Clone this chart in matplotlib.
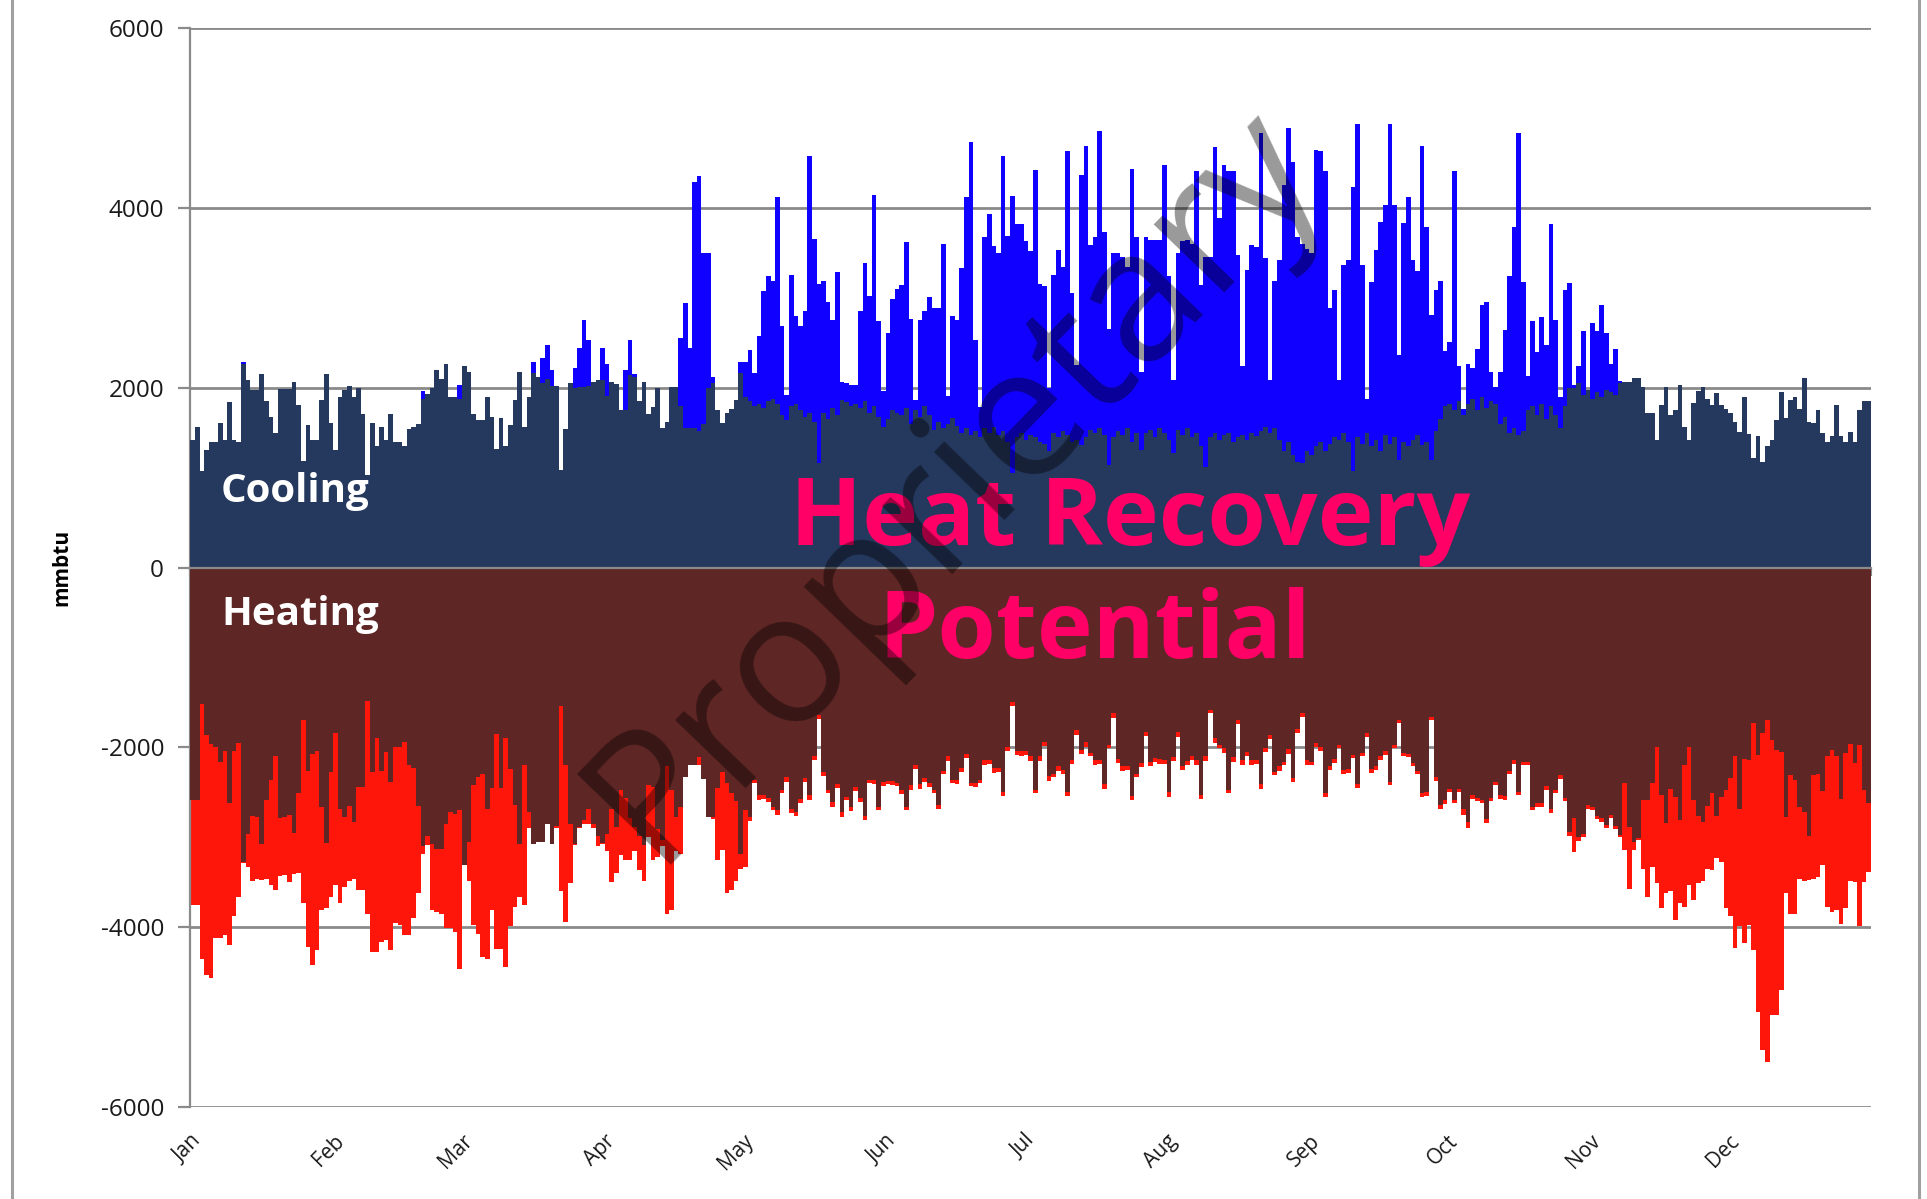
import numpy as np
import matplotlib
matplotlib.use("Agg")
import matplotlib.pyplot as plt
from matplotlib.lines import Line2D

plt.rcParams['font.family'] = ['Open Sans', 'DejaVu Sans']
plt.rcParams['axes.unicode_minus'] = False

months = ['Jan', 'Feb', 'Mar', 'Apr', 'May', 'Jun', 'Jul', 'Aug', 'Sep', 'Oct', 'Nov', 'Dec']
month_start = [0, 31, 59, 90, 120, 151, 181, 212, 243, 273, 304, 334]

# daily values, thousands of mmbtu
cool_peak = [
    1.42, 1.57, 1.07, 1.31, 1.40, 1.40, 1.61, 1.42, 1.84, 1.42,
    1.40, 2.29, 2.09, 1.98, 1.98, 2.15, 1.85, 1.68, 1.50, 1.99,
    1.99, 1.99, 2.07, 1.81, 1.19, 1.59, 1.42, 1.42, 1.87, 2.15,
    1.61, 1.31, 1.90, 1.98, 2.02, 1.90, 2.00, 1.71, 1.03, 1.61,
    1.35, 1.56, 1.42, 1.71, 1.40, 1.40, 1.35, 1.54, 1.57, 1.60,
    1.96, 1.93, 2.00, 2.20, 2.10, 2.27, 1.90, 1.90, 2.03, 2.24,
    2.18, 1.71, 1.64, 1.64, 1.90, 1.68, 1.32, 1.66, 1.35, 1.59,
    1.86, 2.18, 1.57, 1.90, 2.29, 2.12, 2.33, 2.48, 2.20, 2.02,
    1.09, 1.54, 2.05, 2.22, 2.44, 2.75, 2.53, 2.07, 2.09, 2.44,
    2.27, 2.07, 2.04, 1.75, 2.20, 2.53, 2.15, 1.85, 2.07, 1.71,
    1.79, 2.00, 1.55, 1.62, 2.01, 2.01, 2.56, 2.94, 2.44, 4.29,
    4.36, 3.50, 3.50, 2.12, 1.75, 1.61, 1.72, 1.77, 1.86, 2.29,
    2.29, 2.42, 2.16, 2.58, 3.08, 3.24, 3.19, 4.12, 2.69, 1.92,
    3.26, 2.80, 2.69, 2.85, 4.58, 3.66, 3.16, 3.19, 2.96, 2.75,
    3.29, 2.07, 2.05, 2.03, 2.03, 2.85, 3.39, 3.02, 4.15, 2.74,
    1.97, 2.61, 2.99, 3.10, 3.14, 3.62, 2.77, 1.87, 2.76, 2.85,
    3.01, 2.89, 2.89, 3.60, 1.91, 2.80, 2.76, 3.33, 4.12, 4.73,
    2.53, 1.79, 3.68, 3.93, 3.58, 3.50, 4.58, 3.69, 4.13, 3.82,
    3.82, 3.63, 3.52, 4.42, 3.16, 3.13, 2.00, 3.26, 3.53, 3.35,
    4.64, 3.05, 2.25, 4.37, 4.69, 3.59, 3.68, 4.86, 3.73, 2.66,
    3.50, 3.50, 3.46, 3.35, 4.44, 3.68, 2.18, 3.68, 3.65, 3.65,
    3.65, 4.48, 3.24, 2.09, 3.50, 3.63, 3.65, 3.60, 4.41, 3.14,
    3.46, 3.46, 4.68, 3.89, 4.48, 4.41, 4.41, 3.48, 2.24, 3.31,
    3.59, 3.57, 4.84, 3.44, 2.09, 3.19, 3.42, 4.26, 4.89, 4.51,
    3.68, 3.60, 3.55, 3.50, 4.65, 4.63, 4.41, 2.89, 3.09, 2.09,
    3.37, 3.42, 4.23, 4.94, 3.37, 1.88, 3.18, 3.53, 3.85, 4.03,
    4.94, 4.03, 2.37, 3.83, 4.12, 3.42, 3.30, 4.69, 3.79, 2.81,
    3.09, 3.19, 2.41, 2.51, 4.41, 2.24, 1.77, 2.27, 2.22, 2.43,
    2.92, 2.96, 2.18, 2.01, 2.18, 2.64, 3.24, 3.79, 4.84, 3.18,
    2.13, 2.74, 2.40, 2.79, 2.48, 3.82, 2.76, 1.90, 3.09, 3.17,
    2.03, 2.24, 2.63, 1.98, 2.72, 2.63, 2.92, 2.61, 2.27, 2.43,
    2.08, 2.07, 2.07, 2.11, 2.11, 2.01, 1.72, 1.72, 1.42, 1.81,
    2.01, 1.70, 1.75, 2.03, 1.57, 1.42, 1.83, 1.96, 2.01, 1.88,
    1.81, 1.94, 1.81, 1.77, 1.72, 1.62, 1.51, 1.90, 1.49, 1.22,
    1.46, 1.18, 1.35, 1.42, 1.64, 1.95, 1.66, 1.87, 1.90, 1.77,
    2.11, 1.62, 1.61, 1.75, 1.50, 1.40, 1.46, 1.81, 1.46, 1.40,
    1.51, 1.40, 1.75, 1.85, 1.85,
]

cool_base = [
    1.42, 1.57, 1.07, 1.31, 1.40, 1.40, 1.61, 1.42, 1.84, 1.42,
    1.40, 2.27, 2.09, 1.98, 1.98, 2.15, 1.85, 1.68, 1.50, 1.99,
    1.99, 1.99, 2.07, 1.81, 1.19, 1.59, 1.42, 1.42, 1.87, 2.15,
    1.61, 1.31, 1.90, 1.98, 2.02, 1.90, 2.00, 1.71, 1.03, 1.61,
    1.35, 1.56, 1.42, 1.71, 1.40, 1.40, 1.35, 1.54, 1.57, 1.60,
    1.88, 1.93, 2.00, 2.20, 2.10, 2.27, 1.90, 1.90, 1.88, 2.24,
    2.18, 1.71, 1.64, 1.64, 1.90, 1.68, 1.32, 1.66, 1.35, 1.59,
    1.86, 2.18, 1.57, 1.90, 2.16, 2.12, 2.05, 2.10, 2.02, 2.02,
    1.09, 1.54, 2.05, 2.00, 2.01, 2.01, 2.02, 2.07, 2.09, 2.09,
    1.91, 2.07, 2.04, 1.75, 1.75, 2.14, 2.12, 1.85, 2.07, 1.71,
    1.79, 2.00, 1.55, 1.62, 2.01, 2.01, 1.80, 1.55, 1.55, 1.55,
    1.52, 1.60, 2.00, 2.05, 1.75, 1.61, 1.72, 1.77, 1.86, 2.16,
    1.90, 1.85, 1.80, 1.82, 1.78, 1.85, 1.88, 1.82, 1.70, 1.64,
    1.80, 1.82, 1.75, 1.68, 1.72, 1.62, 1.16, 1.72, 1.65, 1.78,
    1.70, 1.86, 1.84, 1.80, 1.82, 1.78, 1.85, 1.72, 1.80, 1.68,
    1.57, 1.65, 1.75, 1.72, 1.70, 1.78, 1.60, 1.75, 1.68, 1.80,
    1.70, 1.53, 1.62, 1.55, 1.60, 1.66, 1.58, 1.50, 1.55, 1.48,
    1.52, 1.45, 1.55, 1.50, 1.57, 1.48, 1.52, 1.40, 1.05, 1.45,
    1.50, 1.42, 1.48, 1.45, 1.40, 1.38, 1.30, 1.50, 1.45, 1.52,
    1.48, 1.40, 1.42, 1.36, 1.45, 1.53, 1.50, 1.55, 1.48, 1.14,
    1.45, 1.52, 1.48, 1.55, 1.40, 1.50, 1.31, 1.50, 1.53, 1.45,
    1.55, 1.50, 1.42, 1.27, 1.53, 1.48, 1.55, 1.45, 1.50, 1.35,
    1.12, 1.45, 1.50, 1.42, 1.48, 1.50, 1.40, 1.45, 1.48, 1.42,
    1.50, 1.46, 1.52, 1.57, 1.50, 1.55, 1.42, 1.30, 1.40, 1.25,
    1.18, 1.16, 1.30, 1.25, 1.35, 1.40, 1.30, 1.38, 1.45, 1.42,
    1.50, 1.40, 1.08, 1.45, 1.38, 1.50, 1.35, 1.42, 1.30, 1.48,
    1.38, 1.45, 1.20, 1.40, 1.35, 1.42, 1.48, 1.36, 1.40, 1.20,
    1.52, 1.65, 1.80, 1.82, 1.75, 1.85, 1.70, 1.82, 1.88, 1.75,
    1.90, 1.78, 1.85, 1.82, 1.60, 1.68, 1.50, 1.55, 1.48, 1.52,
    1.75, 1.80, 1.70, 1.82, 1.65, 1.80, 1.70, 1.55, 1.80, 2.00,
    2.00, 2.05, 1.92, 1.98, 1.88, 1.95, 1.90, 1.98, 1.95, 1.92,
    2.05, 2.07, 2.07, 2.11, 2.11, 2.01, 1.72, 1.72, 1.42, 1.81,
    2.01, 1.70, 1.75, 2.03, 1.57, 1.42, 1.83, 1.96, 2.01, 1.88,
    1.81, 1.94, 1.81, 1.77, 1.72, 1.62, 1.51, 1.90, 1.49, 1.22,
    1.46, 1.18, 1.35, 1.42, 1.64, 1.95, 1.66, 1.87, 1.90, 1.77,
    2.11, 1.62, 1.61, 1.75, 1.50, 1.40, 1.46, 1.81, 1.46, 1.40,
    1.51, 1.40, 1.75, 1.85, 1.85,
]

heat_base = [
    -2.59, -2.59, -1.52, -1.86, -1.96, -1.99, -2.16, -2.04, -2.62, -2.04,
    -1.95, -3.27, -2.96, -2.76, -2.77, -3.07, -2.58, -2.36, -2.10, -2.79,
    -2.77, -2.75, -2.95, -2.51, -1.70, -2.26, -2.07, -2.04, -2.66, -3.06,
    -2.27, -1.84, -2.69, -2.77, -2.65, -2.83, -2.44, -2.44, -1.48, -2.27,
    -1.90, -2.26, -2.05, -2.38, -1.99, -1.99, -1.94, -2.19, -2.23, -2.65,
    -3.10, -2.99, -3.07, -3.13, -3.13, -2.85, -2.72, -2.74, -2.70, -3.31,
    -3.05, -2.42, -2.33, -2.30, -2.69, -2.45, -1.85, -2.45, -1.90, -2.24,
    -2.64, -3.07, -2.20, -2.72, -3.07, -3.05, -3.05, -2.85, -3.07, -2.87,
    -1.54, -2.20, -2.85, -3.07, -2.88, -2.81, -2.68, -2.85, -2.98, -3.06,
    -2.96, -2.69, -2.88, -2.47, -2.56, -2.79, -2.88, -2.99, -3.08, -2.42,
    -2.44, -2.91, -3.03, -2.21, -2.47, -2.77, -2.66, -2.33, -2.19, -2.19,
    -2.11, -2.35, -2.77, -2.77, -2.45, -2.27, -2.40, -2.51, -2.60, -3.18,
    -2.70, -2.77, -2.36, -2.53, -2.53, -2.56, -2.66, -2.70, -2.47, -2.33,
    -2.68, -2.72, -2.57, -2.34, -2.53, -2.10, -1.64, -2.27, -2.47, -2.61,
    -2.41, -2.72, -2.55, -2.66, -2.44, -2.56, -2.76, -2.36, -2.36, -2.66,
    -2.38, -2.37, -2.37, -2.39, -2.47, -2.66, -2.42, -2.20, -2.41, -2.34,
    -2.39, -2.47, -2.64, -2.26, -2.10, -2.36, -2.36, -2.23, -2.07, -2.39,
    -2.39, -2.36, -2.14, -2.14, -2.23, -2.23, -2.49, -2.00, -1.49, -2.04,
    -2.04, -2.04, -2.10, -2.47, -2.10, -1.94, -2.32, -2.29, -2.21, -2.25,
    -2.49, -2.14, -1.81, -2.03, -1.94, -2.06, -2.14, -2.14, -2.41, -1.97,
    -1.62, -2.13, -2.21, -2.21, -2.54, -2.29, -2.17, -1.83, -2.16, -2.12,
    -2.13, -2.14, -2.50, -2.11, -1.83, -2.21, -2.15, -2.10, -2.14, -2.53,
    -2.10, -1.58, -1.90, -1.97, -2.01, -2.47, -2.11, -1.70, -2.14, -2.05,
    -2.14, -2.14, -2.41, -2.01, -1.86, -2.27, -2.21, -2.16, -2.02, -2.34,
    -1.79, -1.62, -2.14, -2.16, -1.95, -2.00, -2.51, -2.21, -2.13, -1.97,
    -2.25, -2.24, -2.08, -2.41, -2.06, -1.84, -2.24, -2.21, -2.10, -2.04,
    -2.38, -1.97, -1.69, -2.06, -2.07, -2.17, -2.26, -2.51, -2.50, -1.66,
    -2.33, -2.64, -2.59, -2.46, -2.58, -2.46, -2.68, -2.83, -2.53, -2.56,
    -2.58, -2.80, -2.56, -2.38, -2.53, -2.54, -2.26, -2.14, -2.49, -2.16,
    -2.16, -2.66, -2.62, -2.62, -2.43, -2.69, -2.47, -2.31, -2.56, -2.94,
    -2.79, -3.00, -2.96, -2.64, -2.66, -2.76, -2.79, -2.86, -2.75, -2.87,
    -2.97, -2.39, -2.88, -3.05, -3.01, -2.59, -2.59, -2.40, -1.99, -2.53,
    -2.84, -2.46, -2.55, -2.81, -2.20, -1.99, -2.58, -2.76, -2.83, -2.65,
    -2.51, -2.76, -2.55, -2.47, -2.34, -2.10, -2.68, -2.13, -2.14, -1.73,
    -2.08, -1.84, -1.70, -1.92, -2.03, -2.05, -2.77, -2.31, -2.36, -2.66,
    -2.72, -2.99, -2.31, -2.29, -2.48, -2.10, -2.03, -2.10, -2.57, -2.06,
    -1.96, -2.17, -1.97, -2.47, -2.62,
]

heat_peak = [
    -3.75, -3.75, -4.35, -4.53, -4.57, -4.12, -4.12, -4.09, -4.20, -3.88,
    -3.66, -3.29, -3.33, -3.49, -3.46, -3.47, -3.46, -3.53, -3.59, -3.43,
    -3.42, -3.50, -3.41, -3.40, -3.73, -4.22, -4.42, -4.25, -3.81, -3.79,
    -3.66, -3.53, -3.73, -3.55, -3.49, -3.46, -3.59, -3.59, -3.85, -4.27,
    -4.27, -4.16, -4.14, -4.25, -3.95, -3.97, -4.09, -4.09, -3.90, -3.62,
    -3.18, -3.09, -3.81, -3.83, -3.85, -4.01, -4.01, -4.05, -4.46, -3.31,
    -3.48, -3.98, -4.07, -4.33, -4.35, -3.81, -4.24, -4.24, -4.44, -3.99,
    -3.77, -3.66, -3.75, -2.90, -3.07, -3.05, -3.05, -2.85, -3.07, -2.90,
    -3.60, -3.94, -3.51, -3.09, -2.90, -2.85, -2.85, -2.90, -3.10, -3.07,
    -3.15, -3.50, -3.40, -3.20, -3.25, -3.25, -3.15, -3.36, -3.49, -3.00,
    -3.25, -3.22, -3.10, -3.85, -3.81, -3.15, -3.18, -2.33, -2.19, -2.19,
    -2.20, -2.35, -2.77, -2.80, -3.25, -3.14, -3.62, -3.59, -3.48, -3.35,
    -3.33, -2.82, -2.40, -2.58, -2.57, -2.61, -2.70, -2.75, -2.51, -2.38,
    -2.73, -2.76, -2.62, -2.38, -2.58, -2.14, -1.68, -2.32, -2.51, -2.66,
    -2.45, -2.77, -2.59, -2.71, -2.48, -2.61, -2.81, -2.40, -2.41, -2.70,
    -2.43, -2.41, -2.42, -2.43, -2.52, -2.70, -2.47, -2.24, -2.46, -2.38,
    -2.44, -2.51, -2.69, -2.30, -2.15, -2.40, -2.41, -2.27, -2.12, -2.43,
    -2.44, -2.40, -2.19, -2.18, -2.28, -2.27, -2.54, -2.04, -1.54, -2.08,
    -2.09, -2.08, -2.15, -2.51, -2.15, -1.98, -2.37, -2.33, -2.26, -2.29,
    -2.54, -2.18, -1.86, -2.07, -1.99, -2.10, -2.19, -2.18, -2.46, -2.01,
    -1.67, -2.17, -2.26, -2.25, -2.59, -2.33, -2.22, -1.87, -2.21, -2.16,
    -2.18, -2.18, -2.55, -2.15, -1.88, -2.25, -2.20, -2.14, -2.19, -2.57,
    -2.15, -1.62, -1.95, -2.01, -2.06, -2.51, -2.16, -1.74, -2.19, -2.09,
    -2.19, -2.18, -2.46, -2.05, -1.91, -2.31, -2.26, -2.20, -2.07, -2.38,
    -1.84, -1.66, -2.19, -2.20, -1.99, -2.04, -2.55, -2.25, -2.17, -2.01,
    -2.29, -2.28, -2.12, -2.45, -2.10, -1.88, -2.28, -2.25, -2.14, -2.08,
    -2.42, -2.01, -1.73, -2.10, -2.11, -2.21, -2.30, -2.55, -2.54, -1.70,
    -2.37, -2.68, -2.63, -2.50, -2.62, -2.50, -2.75, -2.90, -2.57, -2.60,
    -2.62, -2.84, -2.60, -2.42, -2.57, -2.58, -2.30, -2.18, -2.53, -2.20,
    -2.20, -2.70, -2.66, -2.66, -2.47, -2.73, -2.51, -2.35, -2.60, -2.98,
    -3.16, -3.04, -3.00, -2.68, -2.70, -2.80, -2.83, -2.90, -2.79, -2.91,
    -3.00, -3.14, -3.57, -3.14, -3.03, -3.35, -3.66, -3.33, -3.51, -3.79,
    -3.62, -3.60, -3.92, -3.73, -3.77, -3.53, -3.70, -3.51, -3.49, -3.35,
    -3.36, -3.23, -3.27, -3.79, -3.88, -4.23, -3.99, -4.18, -3.98, -4.25,
    -4.94, -5.37, -5.50, -4.98, -4.98, -4.70, -3.62, -3.85, -3.85, -3.46,
    -3.49, -3.47, -3.46, -3.44, -3.31, -3.77, -3.83, -3.81, -3.96, -3.79,
    -3.49, -3.50, -3.99, -3.50, -3.38,
]

navy = '#25385e'
blue = '#1000ff'
brown = '#5e2624'
red = '#ff160a'
pink = '#ff0066'
grey = '#8a8a8a'

edges = np.arange(len(cool_peak) + 1)

fig = plt.figure(figsize=(19.27, 11.99), dpi=100)
ax = fig.add_axes([190.4 / 1927, 0.0767, 1680.6 / 1927, 0.8997])

ax.stairs(np.array(cool_peak) * 1000, edges, baseline=0, fill=True, color=blue, lw=0, zorder=2)
ax.stairs(np.array(cool_base) * 1000, edges, baseline=0, fill=True, color=navy, lw=0, zorder=3)
ax.stairs(np.array(heat_peak) * 1000, edges, baseline=0, fill=True, color=red, lw=0, zorder=2)
ax.stairs(np.array(heat_base) * 1000, edges, baseline=0, fill=True, color=brown, lw=0, zorder=3)

ax.set_xlim(0, 365)
ax.set_ylim(-6000, 6000)
ax.set_yticks(range(-6000, 6001, 2000))
ax.yaxis.grid(True, color=grey, lw=2)
ax.set_axisbelow(True)

for s in ['top', 'right']:
    ax.spines[s].set_visible(False)
ax.spines['left'].set_color(grey)
ax.spines['left'].set_linewidth(1.6)
ax.spines['bottom'].set_position(('data', 0))
ax.spines['bottom'].set_color(grey)
ax.spines['bottom'].set_linewidth(1.6)
ax.spines['bottom'].set_zorder(4)

ax.set_xticks(month_start + [365])
ax.tick_params(axis='x', direction='out', length=6, width=1.5, color=grey, labelbottom=False)
ax.tick_params(axis='y', direction='out', length=9, width=1.6, color=grey, pad=10,
               labelsize=17.5, labelcolor='#1a1a1a')

secx = ax.secondary_xaxis('bottom')
secx.set_xticks(month_start, labels=months, rotation=45, ha='right', rotation_mode='anchor',
                fontsize=15, color='#1a1a1a')
secx.tick_params(length=0, pad=17)
secx.spines['bottom'].set_visible(False)

ax.set_ylabel('mmbtu', fontsize=15, fontweight='bold')
ax.yaxis.set_label_coords(-0.0705, 0.5)

ax.text(6.65, 733, 'Cooling', color='white', fontsize=29, fontweight='bold', va='baseline', zorder=6)
ax.text(6.65, -639, 'Heating', color='white', fontsize=29, fontweight='bold', va='baseline', zorder=6)
ax.text(204.2, 251, 'Heat Recovery', color=pink, fontsize=68, fontweight='bold',
        ha='center', va='baseline', zorder=6)
ax.text(196.4, -1009, 'Potential', color=pink, fontsize=68, fontweight='bold',
        ha='center', va='baseline', zorder=6)
ax.text(166, 925, 'Proprietary', color='black', alpha=0.4, fontsize=132, rotation=46,
        ha='center', va='center', rotation_mode='anchor', zorder=7)

# slide frame edges
fig.add_artist(Line2D([12 / 1927, 12 / 1927], [0, 1], color='#a0a0a0', lw=2.2))
fig.add_artist(Line2D([1919 / 1927, 1919 / 1927], [0, 1], color='#a0a0a0', lw=2.2))

fig.savefig('out.png', dpi=100)
